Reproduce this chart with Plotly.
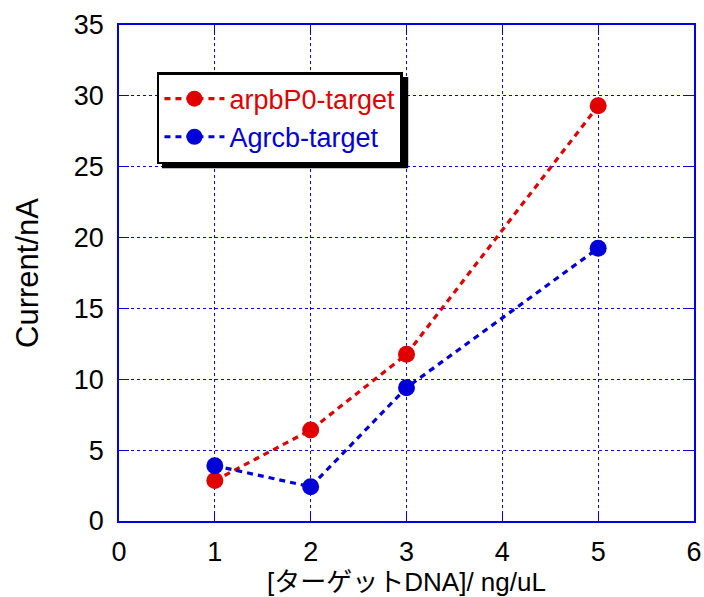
import plotly.graph_objects as go

# Target DNA concentration (ng/uL) and measured current (nA)
conc = [1, 2, 3, 5]
arpb_current = [2.85, 6.42, 11.76, 29.3]
agrcb_current = [3.9, 2.42, 9.41, 19.25]

series_names = ["arpbP0-target", "Agrcb-target"]
x_ticks = [0, 1, 2, 3, 4, 5, 6]
y_ticks = [0, 5, 10, 15, 20, 25, 30, 35]

RED = "#e00000"
BLUE = "#0000d8"
AXIS_BLUE = "#0000e0"
FONT = "Liberation Sans, Arial, sans-serif"

fig = go.Figure()
for name, ys, col in [(series_names[0], arpb_current, RED),
                      (series_names[1], agrcb_current, BLUE)]:
    fig.add_trace(go.Scatter(
        x=conc, y=ys, mode="lines+markers",
        name=f"<span style='color:{col}'>{name}</span>",
        line=dict(color=col, width=3.2, dash="6px,5px"),
        marker=dict(color=col, size=17),
    ))

axis_common = dict(
    showline=True, linecolor=AXIS_BLUE, linewidth=1.5, mirror="allticks",
    ticks="inside", ticklen=10, tickcolor=AXIS_BLUE, tickwidth=1.2,
    showgrid=True, gridcolor=AXIS_BLUE, gridwidth=1, griddash="dot",
    zeroline=False, automargin=False,
    tickfont=dict(size=27, color="black", family=FONT),
)

fig.update_xaxes(range=[0, 6], tickvals=x_ticks, ticklabelstandoff=6,
                 **axis_common,
                 title=dict(text="[ターゲットDNA]/ ng/uL",
                            font=dict(size=26, color="black",
                                      family="Liberation Sans, Noto Sans CJK JP, sans-serif"),
                            standoff=4))
fig.update_yaxes(range=[0, 35], tickvals=y_ticks, ticklabelstandoff=8,
                 **axis_common,
                 title=dict(text="Current/nA",
                            font=dict(size=31, color="black", family=FONT),
                            standoff=26))

# Drop shadow behind the legend box
fig.add_shape(type="rect", xref="paper", yref="paper",
              x0=0.0748, x1=0.503, y0=0.711, y1=0.895,
              fillcolor="black", line=dict(width=0), layer="above")

fig.update_layout(
    width=704, height=597,
    margin=dict(l=119, r=10, t=25, b=76),
    paper_bgcolor="white", plot_bgcolor="white",
    font=dict(family=FONT),
    showlegend=True,
    legend=dict(x=0.066, y=0.905, xanchor="left", yanchor="top",
                bgcolor="white", bordercolor="black", borderwidth=2.5,
                font=dict(size=27, family=FONT),
                itemwidth=60, tracegroupgap=0),
)

fig.write_html("out.html")
